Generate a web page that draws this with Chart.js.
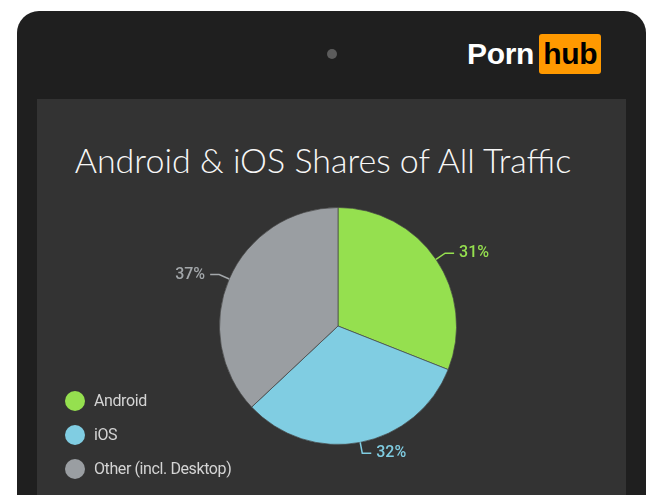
<!DOCTYPE html>
<html>
<head>
<meta charset="utf-8">
<script src="https://cdn.jsdelivr.net/npm/chart.js@4"></script>
<style>
    html, body { margin: 0; padding: 0; background: #ffffff; }
    body { width: 665px; height: 495px; position: relative; overflow: hidden; font-family: 'Liberation Sans', Arial, sans-serif; }
    #tablet { position: absolute; left: 17px; top: 11px; width: 629px; height: 560px; background: #1f1f1f; border-radius: 22px; }
    #screen { position: absolute; left: 37px; top: 99px; width: 589px; height: 420px; background: #333333; }
    #camera { position: absolute; left: 327px; top: 49px; width: 10px; height: 10px; border-radius: 50%; background: #5c5c5c; }
    #logo { position: absolute; left: 467px; top: 34px; height: 40px; font-weight: bold; font-size: 30px; line-height: 40px; letter-spacing: -0.3px; }
    #logo .porn { color: #ffffff; }
    #logo .hub { display: inline-block; margin-left: 5px; padding: 0 4px 0 4px; background: #ff9900; color: #000000; border-radius: 3px; }
    #title { position: absolute; left: 23px; top: 139px; width: 600px; text-align: center; white-space: nowrap; font-family: Lato, sans-serif; font-weight: 300; font-size: 34px; line-height: 42px; color: #f7f7f7; }
    #wrap { position: absolute; left: 0; top: 0; width: 665px; height: 495px; }
    #legend { position: absolute; left: 65px; top: 389px; font-family: Roboto, sans-serif; font-size: 16px; letter-spacing: -0.4px; color: #d4d4d4; }
    #legend .item { height: 34px; line-height: 24px; position: relative; padding-left: 29px; }
    #legend .dot { position: absolute; left: 0; top: 2px; width: 20px; height: 20px; border-radius: 50%; }
</style>
</head>
<body>
<div id="tablet"></div>
<div id="screen"></div>
<div id="camera"></div>
<div id="logo"><span class="porn">Porn</span><span class="hub">hub</span></div>
<div id="title"></div>
<div id="wrap"><canvas id="chart" width="665" height="495"></canvas></div>
<div id="legend"></div>
<script>
const categories = ['Android', 'iOS', 'Other (incl. Desktop)'];
const shares = [31, 32, 37];
const sliceColors = ['#95e04f', '#80cde2', '#9a9ea2'];
const labelColors = ['#95e04f', '#80cde2', '#a3a7aa'];
const chartTitle = 'Android & iOS Shares of All Traffic';

document.getElementById('title').textContent = chartTitle;

// legend built from the same arrays
let legendBox = document.getElementById('legend');
categories.forEach((name, i) => {
    let item = document.createElement('div');
    item.classList.add('item');
    let dot = document.createElement('span');
    dot.classList.add('dot');
    dot.style.background = sliceColors[i];
    item.appendChild(dot);
    item.appendChild(document.createTextNode(name));
    legendBox.appendChild(item);
});

// percent labels with elbow leader lines
const leaderLabels = {
    id: 'leaderLabels',
    afterDatasetsDraw(chart) {
        const ctx = chart.ctx;
        const meta = chart.getDatasetMeta(0);
        meta.data.forEach((arc, i) => {
            const mid = (arc.startAngle + arc.endAngle) / 2;
            const r = arc.outerRadius;
            const cos = Math.cos(mid), sin = Math.sin(mid);
            const x0 = arc.x + cos * r, y0 = arc.y + sin * r;
            const x1 = arc.x + cos * (r + 11), y1 = arc.y + sin * (r + 11);
            const right = x1 >= arc.x;
            const x2 = x1 + (right ? 9 : -9);
            ctx.save();
            ctx.strokeStyle = labelColors[i];
            ctx.lineWidth = 1.5;
            ctx.beginPath();
            ctx.moveTo(x0, y0);
            ctx.lineTo(x1, y1);
            ctx.lineTo(x2, y1);
            ctx.stroke();
            ctx.fillStyle = labelColors[i];
            ctx.font = '500 16px Roboto, sans-serif';
            ctx.textBaseline = 'middle';
            ctx.textAlign = right ? 'left' : 'right';
            ctx.fillText(shares[i] + '%', x2 + (right ? 5 : -5), y1);
            ctx.restore();
        });
    }
};

new Chart(document.getElementById('chart'), {
    type: 'pie',
    data: {
        labels: categories,
        datasets: [{
            data: shares,
            backgroundColor: sliceColors,
            borderColor: 'rgba(70,70,70,0.7)',
            borderWidth: 1
        }]
    },
    options: {
        responsive: false,
        animation: false,
        layout: {
            padding: { left: 219, right: 208, top: 207, bottom: 50 }
        },
        plugins: {
            legend: { display: false },
            tooltip: { enabled: false },
            title: { display: false }
        }
    },
    plugins: [leaderLabels]
});
</script>
</body>
</html>
